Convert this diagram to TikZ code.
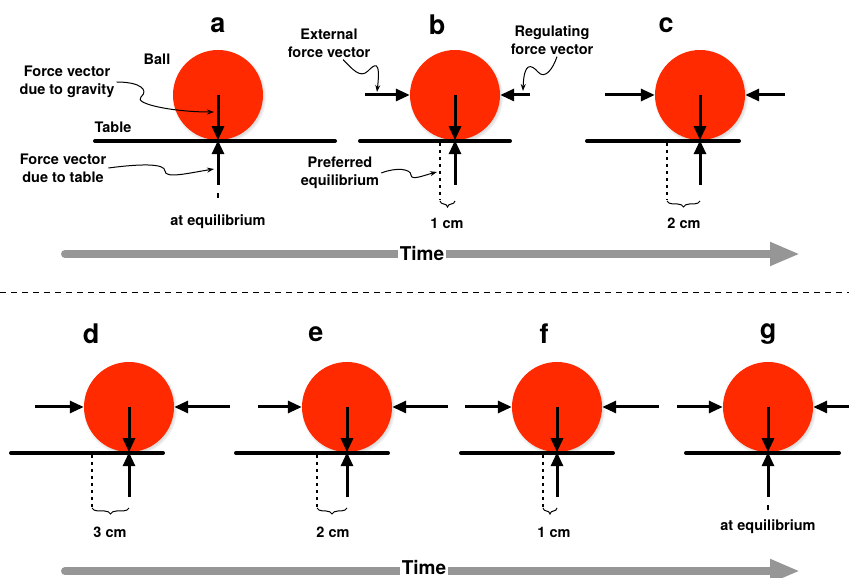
\documentclass[tikz,border=0pt]{standalone}
\usepackage{fontspec}
\setmainfont{TeX Gyre Heros}
\usepackage{tikz}
\usetikzlibrary{arrows.meta,positioning,decorations.pathreplacing,shadows}
\definecolor{ballred}{RGB}{255,42,0}
\definecolor{timegray}{RGB}{150,150,150}

\begin{document}
\begin{tikzpicture}[x=1pt,y=1pt,>={Triangle[length=14pt,width=12pt]},
    ball/.style={circle,fill=ballred,minimum size=90pt,inner sep=0pt,
      circular drop shadow={shadow xshift=1pt,shadow yshift=-1.5pt,shadow scale=1.05,opacity=.5}},
    force/.style={->,line width=3pt},
    tabletop/.style={line width=4pt,line cap=round},
    pref/.style={line width=2pt,dash pattern=on 3pt off 4pt},
    shiftbrace/.style={decorate,decoration={brace,mirror,amplitude=6pt},line width=1pt},
    note/.style={-{Stealth[length=7pt,width=5pt]},line width=1pt},
    panel/.style={font=\bfseries\fontsize{27}{27}\selectfont},
    txt/.style={font=\bfseries\fontsize{14.5}{18}\selectfont,align=center,inner sep=2pt},
    timearrow/.style={-{Triangle[length=30pt,width=22pt]},line width=8pt,line cap=round,draw=timegray},
    timelabel/.style={fill=white,font=\bfseries\fontsize{19}{19}\selectfont,inner sep=1.5pt}]
    \useasboundingbox (0,0) rectangle (849,578);

    % panel a
    \node[ball] (A) at (218,483) {};
    \node[panel] (la) at (218,553) {a};
    \draw[tabletop] (95,437) -- (335,437);
    \coordinate (tA) at (218,393);
    \draw[force] (A.center) -- (A.south);
    \draw[force] (tA) -- (A.south);
    \draw[line width=2pt] (218,385) -- (218,380);
    \node[txt] (eqA) at (218,356) {at equilibrium};
    \node[txt] (ballname) at (157,519) {Ball};
    \node[txt] (grav) at (67,496) {Force vector\\due to gravity};
    \node[txt] (tab) at (113,451) {Table};
    \node[txt] (tabf) at (63,410) {Force vector\\due to table};
    \draw[note] (grav.east) .. controls +(24,0) and +(8,7) .. (141,481)
                            .. controls +(-8,-7) and +(-40,0) .. (214,466);
    \draw[note] (tabf.east) .. controls +(30,4) and +(0,8) .. (165,407)
                            .. controls +(0,-8) and +(-25,-4) .. (214,409);

    % panel b
    \node[ball] (B) at (455,483) {};
    \node[panel] (lb) at (437,553) {b};
    \draw[tabletop] (360,437) -- (510,437);
    \coordinate (tB) at (455,393);
    \coordinate (eB) at (365,483);
    \coordinate (rB) at (530,483);
    \draw[force] (B.center) -- (B.south);
    \draw[force] (tB) -- (B.south);
    \draw[force] (eB) -- (B.west);
    \draw[force] (rB) -- (B.east);
    \draw[pref] (440,435) -- (440,378);
    \draw[shiftbrace] (440,377) -- (455,377);
    \node[txt] (dB) at (447,355) {1 cm};
    \node[txt] (ext) at (329,535) {External\\force vector};
    \node[txt] (reg) at (552,538) {Regulating\\force vector};
    \node[txt] (prefB) at (340,405) {Preferred\\equilibrium};
    \draw[note] ([xshift=14pt]ext.south) .. controls +(9,-9) and +(-8,-8) .. (368,507)
                            .. controls +(6,6) and +(4,34) .. (377,486);
    \draw[note] ([xshift=5pt]reg.south) .. controls +(-4,-12) and +(7,-8) .. (538,506)
                            .. controls +(-7,8) and +(1,29) .. (523,487);
    \draw[note] (prefB.east) .. controls +(15,6) and +(0,6) .. (411,403)
                            .. controls +(0,-6) and +(-12,-3) .. (437,406);

    % panel c
    \node[ball] (C) at (700,483) {};
    \node[panel] (lc) at (666,553) {c};
    \draw[tabletop] (587,437) -- (739,437);
    \coordinate (tC) at (700,393);
    \coordinate (eC) at (605,483);
    \coordinate (rC) at (785,483);
    \draw[force] (C.center) -- (C.south);
    \draw[force] (tC) -- (C.south);
    \draw[force] (eC) -- (C.west);
    \draw[force] (rC) -- (C.east);
    \draw[pref] (667,435) -- (667,378);
    \draw[shiftbrace] (667,377) -- (700,377);
    \node[txt] (dC) at (684,355) {2 cm};

    % time, first row
    \coordinate (ts1) at (65,324);
    \coordinate (te1) at (800,324);
    \draw[timearrow] (ts1) -- (te1);
    \node[timelabel] (time1) at (422,324) {Time};

    % separator
    \coordinate (s0) at (0,285);
    \coordinate (s1) at (849,285);
    \draw[line width=1pt,dash pattern=on 6pt off 5pt] (s0) -- (s1);

    % panel d
    \node[ball] (D) at (129,171) {};
    \node[panel] (ld) at (91,244) {d};
    \draw[tabletop] (11,125) -- (163,125);
    \coordinate (tD) at (129,81);
    \coordinate (eD) at (35,171);
    \coordinate (rD) at (230,171);
    \draw[force] (D.center) -- (D.south);
    \draw[force] (tD) -- (D.south);
    \draw[force] (eD) -- (D.west);
    \draw[force] (rD) -- (D.east);
    \draw[pref] (92,123) -- (92,71);
    \draw[shiftbrace] (92,70) -- (129,70);
    \node[txt] (dD) at (110,46) {3 cm};

    % panel e
    \node[ball] (E) at (347,171) {};
    \node[panel] (le) at (316,244) {e};
    \draw[tabletop] (236,125) -- (388,125);
    \coordinate (tE) at (347,81);
    \coordinate (eE) at (258,171);
    \coordinate (rE) at (448,171);
    \draw[force] (E.center) -- (E.south);
    \draw[force] (tE) -- (E.south);
    \draw[force] (eE) -- (E.west);
    \draw[force] (rE) -- (E.east);
    \draw[pref] (317,123) -- (317,71);
    \draw[shiftbrace] (317,70) -- (347,70);
    \node[txt] (dE) at (333,46) {2 cm};

    % panel f
    \node[ball] (F) at (557,171) {};
    \node[panel] (lf) at (544,244) {f};
    \draw[tabletop] (461,125) -- (613,125);
    \coordinate (tF) at (557,81);
    \coordinate (eF) at (465,171);
    \coordinate (rF) at (659,171);
    \draw[force] (F.center) -- (F.south);
    \draw[force] (tF) -- (F.south);
    \draw[force] (eF) -- (F.west);
    \draw[force] (rF) -- (F.east);
    \draw[pref] (543,123) -- (543,71);
    \draw[shiftbrace] (543,70) -- (557,70);
    \node[txt] (dF) at (554,46) {1 cm};

    % panel g
    \node[ball] (G) at (768,171) {};
    \node[panel] (lg) at (768,244) {g};
    \draw[tabletop] (686,125) -- (839,125);
    \coordinate (tG) at (768,81);
    \coordinate (eG) at (677,171);
    \coordinate (rG) at (849,171);
    \draw[force] (G.center) -- (G.south);
    \draw[force] (tG) -- (G.south);
    \draw[force] (eG) -- (G.west);
    \draw[force] (rG) -- (G.east);
    \draw[line width=2pt] (768,73) -- (768,68);
    \node[txt] (eqG) at (768,51) {at equilibrium};

    % time, second row
    \coordinate (ts2) at (65,7);
    \coordinate (te2) at (800,7);
    \draw[timearrow] (ts2) -- (te2);
    \node[timelabel] (time2) at (424,10) {Time};
\end{tikzpicture}
\end{document}
